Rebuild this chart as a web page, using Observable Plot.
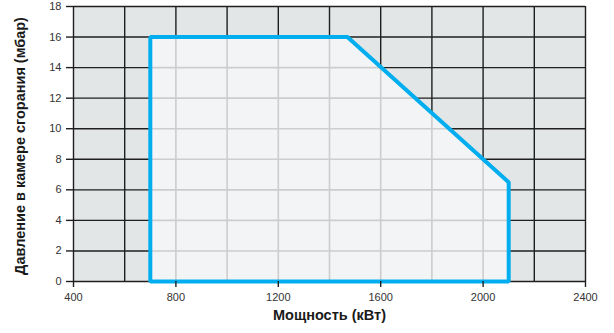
<!DOCTYPE html>
<html><head><meta charset="utf-8">
<script src="https://cdn.jsdelivr.net/npm/d3@7"></script>
<script src="https://cdn.jsdelivr.net/npm/@observablehq/plot@0.6"></script>
<style>
html,body{margin:0;padding:0;background:#fff;}
</style>
</head><body>
<div id="chart"></div>
<script>
// Data
const xTitle = "Мощность (кВт)";
const yTitle = "Давление в камере сгорания (мбар)";
const xDomain = [400, 2400];
const yDomain = [0, 18];
const xTicks = [400, 800, 1200, 1600, 2000, 2400];
const yTicks = [0, 2, 4, 6, 8, 10, 12, 14, 16, 18];
const xGrid = [400, 600, 800, 1000, 1200, 1400, 1600, 1800, 2000, 2200, 2400];
const yGrid = [0, 2, 4, 6, 8, 10, 12, 14, 16, 18];
// working range polygon (power kW, pressure mbar)
const rangePower = [700, 700, 1470, 2100, 2100];
const rangePressure = [0, 16, 16, 6.5, 0];

const poly = rangePower.map((x, i) => ({x, y: rangePressure[i]}));
const upper = poly.slice(1, 4);
function topAt(x) {
  for (let i = 0; i < upper.length - 1; i++) {
    const a = upper[i], b = upper[i + 1];
    if (x >= a.x && x <= b.x) return a.y + (b.y - a.y) * (x - a.x) / (b.x - a.x);
  }
  return 0;
}
function rightAt(y) {
  let best = -Infinity;
  const pts = poly.concat([poly[0]]);
  for (let i = 0; i < pts.length - 1; i++) {
    const a = pts[i], b = pts[i + 1];
    if ((y - a.y) * (y - b.y) <= 0 && a.y !== b.y) {
      const x = a.x + (b.x - a.x) * (y - a.y) / (b.y - a.y);
      best = Math.max(best, x);
    }
  }
  return best;
}
const leftX = d3.min(rangePower), rightX = d3.max(rangePower);
const topY = d3.max(rangePressure), botY = d3.min(rangePressure);
const innerV = xGrid.filter(x => x > leftX && x < rightX).map(x => ({x, y1: botY, y2: topAt(x)}));
const innerH = yGrid.filter(y => y > botY && y < topY).map(y => ({y, x1: leftX, x2: rightAt(y)}));

const chart = Plot.plot({
  width: 614,
  height: 333,
  marginLeft: 73,
  marginRight: 29,
  marginTop: 6,
  marginBottom: 52,
  style: {fontFamily: "'Liberation Sans', Arial, sans-serif", fontSize: "11px", color: "#333", background: "#fff"},
  x: {domain: xDomain, axis: null},
  y: {domain: yDomain, axis: null},
  marks: [
    Plot.frame({fill: "#e3e6e7", stroke: null}),
    Plot.ruleX(xGrid, {stroke: "#1f1f1f", strokeWidth: 1.4}),
    Plot.ruleY(yGrid, {stroke: "#1f1f1f", strokeWidth: 1.4}),
    Plot.line(poly, {x: "x", y: "y", curve: "linear-closed", fill: "#f3f4f6", stroke: null}),
    Plot.ruleX(innerV, {x: "x", y1: "y1", y2: "y2", stroke: "#cdcdcd", strokeWidth: 1.6}),
    Plot.ruleY(innerH, {y: "y", x1: "x1", x2: "x2", stroke: "#cdcdcd", strokeWidth: 1.6}),
    Plot.line(poly, {x: "x", y: "y", curve: "linear-closed", stroke: "#00aeef", strokeWidth: 4, strokeLinejoin: "miter"}),
    Plot.axisY({ticks: yTicks, tickSize: 7, tickPadding: 5, tickFormat: d => String(d), label: null, stroke: "#1f1f1f", strokeWidth: 1.4, fill: "#333"}),
    Plot.axisX({ticks: xTicks, tickSize: 6, tickPadding: 6, tickFormat: d => String(d), label: null, stroke: "#1f1f1f", strokeWidth: 1.4, fill: "#333"}),
    Plot.text([yTitle], {text: d => d, frameAnchor: "left", textAnchor: "middle", rotate: -90, dx: -53, dy: 2, fontWeight: "bold", fontSize: 14.5, fill: "#1a1a1a"}),
    Plot.text([xTitle], {text: d => d, frameAnchor: "bottom", dy: 38, fontWeight: "bold", fontSize: 14.5, fill: "#1a1a1a"})
  ]
});
document.getElementById("chart").append(chart);
</script>
</body></html>
